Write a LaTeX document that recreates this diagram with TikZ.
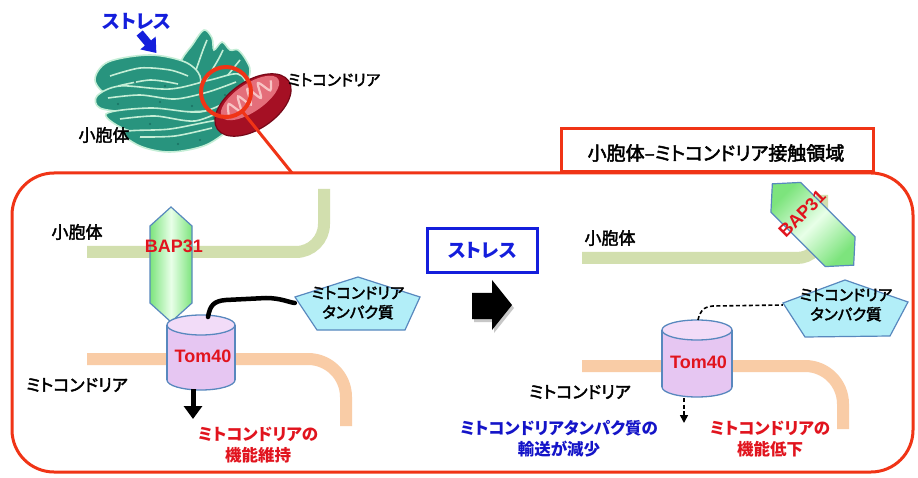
\documentclass[tikz,border=0pt]{standalone}
\usepackage{fontspec}
\setmainfont{Liberation Sans}
\newfontfamily\jp[RawFeature=+palt]{Noto Sans CJK JP}
\newfontfamily\jpm[RawFeature=+palt, FakeBold=2.5]{Noto Sans CJK JP}
\usetikzlibrary{arrows.meta,calc,shapes.geometric}

\definecolor{framecol}{RGB}{240,52,22}
\definecolor{stressblue}{RGB}{20,30,220}
\definecolor{txtblue}{RGB}{20,20,200}
\definecolor{txtred}{RGB}{225,20,30}
\definecolor{ercol}{RGB}{210,223,174}
\definecolor{mitocol}{RGB}{249,204,166}
\definecolor{bapg}{RGB}{125,228,125}
\definecolor{baplight}{RGB}{232,255,232}
\definecolor{edgeblue}{RGB}{88,136,190}
\definecolor{cylbody}{RGB}{230,198,242}
\definecolor{cyltop}{RGB}{242,220,248}
\definecolor{protcol}{RGB}{178,238,248}
\definecolor{teal}{RGB}{40,148,126}
\definecolor{tealdark}{RGB}{26,112,98}
\definecolor{teallight}{RGB}{196,238,214}
\definecolor{mitodark}{RGB}{165,16,36}
\definecolor{mitorim}{RGB}{118,8,24}
\definecolor{mitopink}{RGB}{228,110,122}
\definecolor{cristae}{RGB}{248,196,196}

% cylinder: centre x, top y, bottom y, x radius, y radius
\newcommand\tomcylinder[5]{%
  \fill[cylbody] ({#1-#4},{#2+#5}) rectangle ({#1+#4},{#3-#5});
  \fill[cylbody] (#1,{#3-#5}) ellipse[x radius=#4, y radius=#5];
  \draw[cylline] ({#1-#4},{#2+#5}) -- ({#1-#4},{#3-#5});
  \draw[cylline] ({#1+#4},{#2+#5}) -- ({#1+#4},{#3-#5});
  \begin{scope}
    \clip ({#1-#4-4},{#3-#5}) rectangle ({#1+#4+4},{#3+4});
    \draw[cylline] (#1,{#3-#5}) ellipse[x radius=#4, y radius=#5];
  \end{scope}
  \filldraw[cylline, fill=cyltop] (#1,{#2+#5}) ellipse[x radius=#4, y radius=#5];
}

\begin{document}
\begin{tikzpicture}[x=1pt,y=-1pt,
  lbl/.style={font={\jpm\fontsize{17}{21}\selectfont}, inner sep=0pt, align=center},
  lblsmall/.style={font={\jpm\fontsize{15.5}{20}\selectfont}, inner sep=0pt, align=center},
  boldlbl/.style={font={\jp\bfseries\fontsize{16.5}{21}\selectfont}, inner sep=0pt, align=center},
  protname/.style={font={\jpm\fontsize{15.5}{19.5}\selectfont}, inner sep=0pt, align=center,
    minimum width=126pt, minimum height=53pt},
  molname/.style={font={\bfseries\fontsize{18}{20}\selectfont}, text=txtred, inner sep=0pt},
  erband/.style={draw=ercol, line width=12pt, rounded corners=28pt},
  mitoband/.style={draw=mitocol, line width=12pt, rounded corners=38pt},
  bapshape/.style={draw=edgeblue, line width=1.2pt, left color=bapg, right color=bapg, middle color=baplight},
  cylline/.style={draw=edgeblue, line width=1.3pt},
  protshape/.style={draw=edgeblue, line width=1.2pt, fill=protcol},
  lobe/.style={fill=teal, draw=teallight, line width=1.6pt},
  fold/.style={draw=teallight, line width=1.6pt},
]
\useasboundingbox (0,0) rectangle (918,478);
\fill[white] (0,0) rectangle (918,478);

% ---------- organelle sketch: stacked cisternae ----------
\filldraw[lobe] plot[smooth cycle, tension=0.55] coordinates {(180,66) (193,44) (204,30) (212,38)
  (214,50) (222,42) (230,50) (238,50) (246,60) (250,72) (242,94) (215,110) (190,100)};
\draw[fold] plot[smooth] coordinates {(196,70) (203,50) (207,40)};
\draw[fold] plot[smooth] coordinates {(206,80) (218,60) (223,50)};
\draw[fold] plot[smooth] coordinates {(216,90) (232,70) (240,60)};
\filldraw[lobe] plot[smooth cycle, tension=0.55] coordinates {(95,80) (108,62) (150,55) (185,62)
  (200,76) (194,90) (150,92) (110,95)};
\draw[fold] plot[smooth] coordinates {(110,76) (140,68) (170,70) (188,76)};
\draw[fold] plot[smooth] coordinates {(118,86) (150,80) (178,84)};
\filldraw[lobe] plot[smooth cycle, tension=0.55] coordinates {(97,96) (120,86) (170,89) (210,80)
  (238,74) (246,88) (226,108) (180,112) (130,112) (100,108)};
\draw[fold] plot[smooth] coordinates {(108,98) (140,95) (175,99) (208,92) (236,82)};
\filldraw[lobe] plot[smooth cycle, tension=0.55] coordinates {(106,114) (150,108) (200,112)
  (234,100) (242,110) (216,130) (175,133) (130,131)};
\draw[fold] plot[smooth] coordinates {(120,119) (155,116) (195,121) (228,108)};
\filldraw[lobe] plot[smooth cycle, tension=0.55] coordinates {(124,132) (170,129) (220,120)
  (232,126) (206,145) (170,152) (140,146)};
\draw[fold] plot[smooth] coordinates {(140,137) (175,136) (212,128)};
\foreach \p in {(118,104),(150,124),(178,144),(200,140),(135,82),(165,86),(192,106),(214,118),(160,102),(225,95)}
  \fill[tealdark] \p circle[radius=1.1];

\filldraw[fill=mitodark, draw=mitorim, line width=1.2pt, rotate around={34:(253,105)}]
  (253,105) ellipse[x radius=43, y radius=24];
\fill[mitopink, rotate around={34:(250,98)}] (250,98) ellipse[x radius=34, y radius=14];
\draw[cristae, line width=2.2pt, shift={(250,98)}, rotate=34]
  plot[smooth] coordinates {(-27,2) (-21,-7) (-15,6) (-9,-8) (-3,6) (3,-9) (9,6) (15,-8) (21,5) (27,-3)};

\draw[framecol, line width=3pt] (242,111) -- (292,173);
\draw[framecol, line width=4pt] (226,92) circle[radius=25];

\node[font={\jp\bfseries\fontsize{19}{22}\selectfont}, text=stressblue, inner sep=0pt] (stressTop) at (137,21) {ストレス};
\fill[stressblue, shift={(148,43)}, rotate=-50]
  (-13,-4) -- (0,-4) -- (0,-10) -- (13,0) -- (0,10) -- (0,4) -- (-13,4) -- cycle;
\node[lblsmall] (mitoTop) at (334,80) {ミトコンドリア};
\node[lbl] (erTop) at (104,135) {小胞体};

% ---------- contact site frame ----------
\draw[framecol, line width=3pt, rounded corners=42pt] (12,173) rectangle (913,472);
\node[draw=framecol, line width=3pt, fill=white, minimum width=312pt, minimum height=43pt,
  anchor=south west, inner sep=0pt] (titlebox) at (560,173) {};
\node[font={\jpm\fontsize{19}{22}\selectfont}, inner sep=0pt] (title) at (716,153)
  {小胞体–ミトコンドリア接触領域};

% ---------- left: normal state ----------
\draw[erband] (87,252) -- (324,252) -- (324,189);
\draw[mitoband] (87,359) -- (346,359) -- (346,426);
\path[bapshape, shift={(171,264.5)}]
  (0,-57.5) -- (21,-38.5) -- (21,38.5) -- (0,57.5) -- (-21,38.5) -- (-21,-38.5) -- cycle;
\tomcylinder{201}{315}{390}{34}{10}
\filldraw[protshape] (358,277) -- (420,297) -- (405,330) -- (317,330) -- (295,297) -- cycle;

\node[lbl] (erL) at (77,232) {小胞体};
\node[lbl] (mitoL) at (77,385) {ミトコンドリア};
\node[molname] (bapL) at (174,246.5) {BAP31};
\node[molname] (tomL) at (203,356) {Tom40};
\node[protname] (protL) at (358,303) {ミトコンドリア\\タンパク質};

\coordinate (tomLtop) at (208,317);
\coordinate (tomLbot) at (193,389);
\coordinate (endL) at (193,419);
\draw[line width=4.5pt, line cap=round] (tomLtop) .. controls (210,306) and (213,301) .. (226,300)
  -- (266,298) .. controls (280,298) and (288,302) .. (protL.west);
\draw[line width=5pt, -{Triangle[width=18pt,length=13pt]}] (tomLbot) -- (endL);
\node[boldlbl, text=txtred] (resL) at (258,445) {ミトコンドリアの\\機能維持};

% ---------- stress ----------
\node[draw=stressblue, line width=2.5pt, minimum width=110pt, minimum height=44pt, inner sep=0pt,
  font={\jp\bfseries\fontsize{19}{22}\selectfont}, text=stressblue] (stress) at (482.5,250.5) {ストレス};
\fill[black!22] (474,296) -- (494,296) -- (494,283) -- (514,308) -- (494,333) -- (494,322) -- (474,322) -- cycle;
\fill[black] (472,293) -- (492,293) -- (492,280) -- (512,305) -- (492,330) -- (492,319) -- (472,319) -- cycle;

% ---------- right: under stress ----------
\draw[erband, rounded corners=25pt] (582,258) -- (822,258) -- (822,195);
\draw[mitoband] (582,366) -- (843,366) -- (843,429);
\path[bapshape, shading angle=45, shift={(813,224.5)}, rotate=45]
  (0,-57.5) -- (21,-38.5) -- (21,38.5) -- (0,57.5) -- (-21,38.5) -- (-21,-38.5) -- cycle;
\tomcylinder{697}{320}{397}{35}{10}
\filldraw[protshape] (845,280) -- (908,302) -- (890,336) -- (805,337) -- (783,303) -- cycle;

\node[lbl] (erR) at (610,238) {小胞体};
\node[lbl] (mitoR) at (580,392) {ミトコンドリア};
\node[molname, rotate=45] (bapR) at (802,214) {BAP31};
\node[molname] (tomR) at (698.5,362) {Tom40};
\node[protname] (protR) at (846,305) {ミトコンドリア\\タンパク質};

\coordinate (tomRtop) at (698,320);
\coordinate (tomRbot) at (684,398);
\coordinate (endR) at (684,423);
\draw[line width=1.6pt, dash pattern=on 4pt off 2.5pt] (tomRtop) .. controls (700,311) and (703,307) .. (713,306)
  -- (protR.west);
\draw[line width=1.6pt, dash pattern=on 4pt off 2.5pt, -{Triangle[width=8pt,length=8pt]}] (tomRbot) -- (endR);
\node[boldlbl, text=txtblue] (resR1) at (559,439) {ミトコンドリアタンパク質の\\輸送が減少};
\node[boldlbl, text=txtred] (resR2) at (770,439) {ミトコンドリアの\\機能低下};
\end{tikzpicture}
\end{document}
